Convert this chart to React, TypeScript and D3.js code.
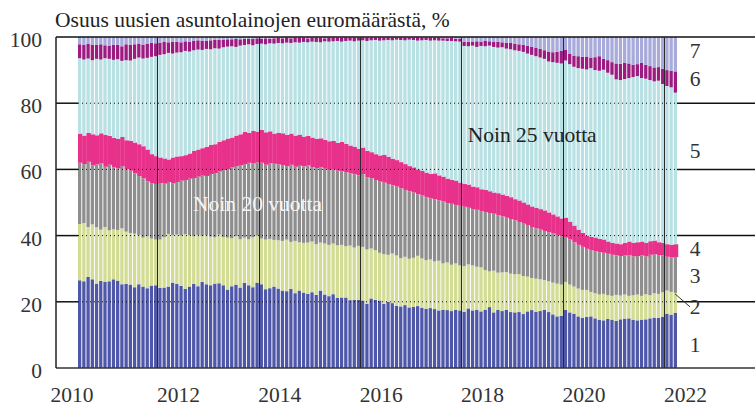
import React from 'react';
import * as d3 from 'd3';

const W = 755;
const H = 408;

const title = 'Osuus uusien asuntolainojen euromäärästä, %';
const startYear = 2010;
const yearTicks = [2010, 2012, 2014, 2016, 2018, 2020, 2022];
const yTicks = [0, 20, 40, 60, 80, 100];
const gridTicks = [20, 40, 60, 80];
// bar index where the dark vertical separator lines are drawn (August 2011, 2013, ...)
const markerIdx = [19, 43, 67, 91, 115, 139];
const seriesNames = ['1', '2', '3', '4', '5', '6', '7'];
const annot25 = 'Noin 25 vuotta';
const annot20 = 'Noin 20 vuotta';

// monthly shares (%), Jan 2010 – Oct 2021
const s1 = [
  26.5, 26.2, 27.5, 26.8, 25.5, 26.3, 26.0, 26.2, 26.8, 26.4, 25.3, 25.4,
  25.2, 24.4, 25.3, 24.6, 24.1, 24.9, 25.0, 24.2, 24.3, 24.6, 25.8, 25.4,
  24.8, 23.9, 24.6, 25.4, 24.7, 26.0, 25.3, 25.0, 25.5, 25.6, 25.0, 23.7,
  24.7, 25.2, 24.3, 25.7, 25.0, 24.4, 25.8, 25.3, 23.8, 24.1, 24.6, 24.0,
  23.4, 23.2, 23.9, 22.6, 23.4, 22.8, 22.4, 22.9, 22.1, 23.4, 22.2, 21.7,
  22.3, 21.2, 21.3, 21.3, 20.5, 20.6, 20.6, 20.4, 19.4, 21.0, 20.6, 20.4,
  19.4, 20.0, 19.6, 18.8, 18.6, 19.0, 18.3, 18.5, 18.7, 18.2, 17.9, 18.1,
  17.8, 17.4, 17.6, 17.5, 17.2, 17.6, 17.4, 17.0, 18.0, 17.4, 17.6, 17.1,
  17.6, 18.4, 16.8, 17.6, 17.2, 17.6, 16.9, 16.8, 16.9, 16.3, 17.1, 17.5,
  17.0, 17.2, 17.6, 16.9, 16.2, 15.6, 15.8, 17.6, 16.8, 16.4, 15.6, 15.2,
  15.4, 15.6, 15.0, 14.6, 14.4, 14.8, 14.6, 14.2, 14.7, 14.9, 15.0, 14.6,
  14.4, 14.6, 14.7, 15.0, 15.2, 15.1, 15.5, 16.4, 16.1, 16.7,
];
const s2 = [
  17.0, 17.6, 15.1, 16.6, 17.0, 15.5, 16.6, 15.4, 15.1, 15.3, 16.9, 15.8,
  15.6, 16.2, 14.9, 14.8, 15.7, 14.2, 13.8, 14.6, 15.2, 15.9, 14.4, 14.9,
  15.2, 16.5, 15.5, 14.4, 15.5, 13.9, 14.8, 14.7, 14.0, 14.7, 14.6, 15.7,
  14.5, 14.6, 14.6, 13.7, 13.9, 15.1, 14.2, 13.8, 15.0, 14.9, 14.1, 14.6,
  15.0, 15.6, 14.2, 15.8, 14.6, 15.0, 15.5, 15.3, 15.3, 14.5, 15.4, 15.5,
  15.3, 15.9, 15.9, 15.5, 16.5, 15.8, 16.3, 16.2, 16.4, 15.1, 15.0, 14.4,
  15.0, 14.2, 15.0, 15.2, 14.6, 14.6, 14.7, 14.8, 15.2, 14.9, 14.7, 14.7,
  14.4, 15.0, 14.0, 14.4, 14.0, 14.0, 13.6, 13.8, 13.3, 13.6, 13.0, 13.3,
  12.0, 10.8, 12.6, 11.2, 11.7, 11.4, 11.6, 11.5, 11.5, 11.5, 10.5, 9.7,
  10.0, 9.6, 9.0, 9.3, 9.6, 9.9, 9.4, 8.4, 8.4, 8.2, 8.4, 8.4,
  8.2, 7.4, 7.6, 7.6, 8.0, 7.2, 7.2, 7.9, 7.2, 7.3, 6.8, 7.4,
  7.8, 7.2, 7.6, 7.0, 7.4, 7.3, 7.4, 7.0, 6.9, 6.0,
];
const s3 = [
  18.5, 17.8, 19.7, 17.8, 19.0, 20.0, 18.2, 19.8, 18.7, 18.6, 18.8, 18.9,
  18.8, 18.2, 17.8, 17.9, 16.6, 16.7, 16.8, 17.1, 16.2, 15.7, 15.6, 15.9,
  16.6, 16.4, 17.1, 17.6, 17.6, 18.2, 17.9, 18.9, 19.4, 19.1, 20.2, 20.7,
  21.4, 21.2, 22.4, 22.2, 23.1, 22.3, 22.1, 22.9, 22.6, 22.9, 23.0, 22.9,
  22.9, 22.2, 23.3, 22.4, 23.1, 23.1, 23.3, 22.5, 23.0, 22.7, 22.6, 22.6,
  22.3, 22.5, 22.2, 22.4, 21.8, 22.1, 21.3, 22.0, 21.8, 21.3, 21.2, 21.5,
  21.6, 21.4, 20.6, 20.8, 21.1, 20.2, 20.4, 19.7, 18.6, 19.0, 19.0, 18.4,
  18.8, 18.2, 18.7, 17.9, 18.4, 17.6, 18.0, 17.9, 17.1, 16.9, 17.2, 17.0,
  17.5, 17.6, 17.2, 17.4, 16.9, 16.4, 16.5, 16.3, 15.7, 15.8, 15.6, 15.4,
  15.2, 15.0, 14.8, 14.8, 14.8, 14.7, 14.6, 13.4, 13.6, 13.4, 13.2, 13.0,
  12.4, 12.6, 12.7, 12.8, 12.4, 12.5, 12.4, 11.9, 11.9, 11.8, 12.3, 11.7,
  11.6, 12.2, 11.4, 12.2, 11.8, 11.7, 11.1, 10.2, 10.4, 10.8,
];
const s4 = [
  8.8, 8.6, 8.7, 9.4, 8.8, 9.1, 9.6, 8.7, 8.9, 8.9, 8.8, 8.7,
  9.0, 9.3, 9.6, 9.7, 9.6, 8.8, 8.4, 7.7, 7.6, 6.8, 7.8, 7.7,
  7.4, 7.5, 7.6, 8.2, 8.2, 8.3, 8.8, 8.8, 8.7, 8.9, 9.0, 9.2,
  9.0, 9.2, 9.3, 9.7, 9.0, 9.8, 9.3, 9.9, 9.8, 9.6, 9.1, 9.5,
  9.6, 9.4, 9.4, 9.4, 9.4, 9.0, 8.9, 8.9, 8.8, 8.8, 8.7, 8.7,
  8.7, 8.4, 8.9, 8.5, 8.4, 8.3, 8.0, 8.0, 8.0, 7.8, 7.8, 7.9,
  8.4, 8.2, 8.0, 8.0, 7.9, 7.8, 7.6, 7.6, 7.5, 7.5, 7.4, 7.4,
  7.8, 7.6, 7.5, 7.4, 7.2, 7.4, 7.0, 6.9, 7.0, 6.9, 6.8, 6.6,
  6.7, 6.6, 6.4, 6.6, 6.6, 6.6, 6.6, 6.4, 6.5, 6.4, 6.2, 6.2,
  6.2, 6.2, 6.2, 6.0, 5.8, 5.6, 5.4, 6.0, 5.4, 5.0, 4.6, 4.2,
  4.0, 4.0, 4.1, 4.0, 4.0, 3.7, 3.6, 3.6, 3.6, 3.8, 4.1, 4.1,
  4.2, 4.2, 4.1, 4.1, 4.1, 3.9, 3.8, 3.8, 3.8, 3.9,
];
const s5 = [
  22.8, 23.0, 22.5, 22.4, 23.1, 22.3, 23.2, 23.3, 23.6, 24.1, 23.0, 24.2,
  24.3, 25.3, 26.2, 26.5, 27.7, 29.4, 30.2, 31.0, 31.5, 32.2, 31.4, 31.4,
  31.4, 31.5, 30.8, 30.4, 30.2, 29.7, 29.6, 28.9, 29.0, 28.2, 28.1, 27.8,
  27.6, 26.8, 26.8, 26.3, 26.8, 25.9, 26.5, 26.1, 26.6, 26.6, 27.2, 27.2,
  27.2, 27.9, 27.4, 28.2, 27.8, 28.6, 28.3, 29.0, 29.3, 29.0, 29.8, 30.1,
  30.1, 30.8, 30.3, 31.1, 31.7, 31.9, 32.7, 32.4, 33.2, 33.8, 34.5, 34.7,
  34.6, 35.3, 35.8, 36.4, 36.9, 37.4, 38.2, 38.5, 38.9, 39.4, 40.1, 40.3,
  40.2, 40.7, 41.1, 41.6, 42.0, 42.1, 42.6, 41.7, 41.8, 42.6, 42.4, 43.3,
  43.4, 44.0, 44.0, 44.0, 44.5, 44.5, 44.7, 45.0, 45.2, 45.5, 45.6, 45.8,
  45.8, 45.8, 45.8, 45.6, 46.0, 46.4, 46.8, 47.5, 47.6, 48.0, 48.8, 49.6,
  50.2, 51.0, 50.6, 50.8, 51.3, 51.0, 50.8, 49.6, 49.6, 49.5, 49.4, 50.1,
  50.2, 49.4, 49.6, 48.7, 48.1, 48.8, 48.0, 47.8, 47.6, 45.8,
];
const s6 = [
  4.2, 4.4, 4.4, 4.7, 4.2, 4.6, 3.9, 4.0, 4.6, 4.3, 4.4, 4.8,
  4.7, 4.4, 4.1, 4.2, 4.3, 4.2, 3.9, 3.7, 3.7, 3.2, 3.6, 3.2,
  3.0, 2.9, 3.0, 2.8, 2.8, 2.8, 2.4, 2.7, 2.5, 2.7, 2.2, 2.2,
  2.1, 2.4, 1.9, 1.9, 1.6, 2.0, 1.7, 1.5, 1.8, 1.4, 1.6, 1.5,
  1.5, 1.4, 1.4, 1.3, 1.5, 1.2, 1.2, 1.1, 1.3, 1.3, 0.9, 1.1,
  1.0, 1.0, 1.1, 1.0, 0.8, 1.1, 0.9, 0.7, 1.0, 0.8, 0.6, 0.9,
  0.8, 0.6, 0.8, 0.6, 0.6, 0.8, 0.6, 0.6, 0.8, 0.8, 0.7, 0.8,
  0.7, 0.8, 0.7, 0.8, 0.9, 0.8, 0.9, 1.2, 1.4, 1.1, 1.7, 1.3,
  1.6, 1.3, 1.6, 1.7, 1.5, 1.8, 1.9, 2.0, 2.0, 2.1, 2.4, 2.4,
  2.6, 2.6, 2.6, 3.0, 3.0, 3.3, 3.8, 3.3, 3.2, 3.4, 3.6, 3.6,
  3.9, 3.2, 3.9, 4.4, 3.3, 3.8, 3.8, 4.8, 4.9, 4.9, 4.4, 3.7,
  3.6, 4.6, 4.2, 4.2, 4.2, 4.1, 4.6, 4.8, 5.0, 6.4,
];
const s7 = [
  2.2, 2.4, 2.1, 2.3, 2.4, 2.2, 2.5, 2.6, 2.3, 2.4, 2.8, 2.2,
  2.4, 2.2, 2.1, 2.3, 2.0, 1.8, 1.9, 1.7, 1.5, 1.6, 1.4, 1.5,
  1.6, 1.3, 1.4, 1.2, 1.0, 1.1, 1.2, 1.0, 0.9, 0.8, 0.9, 0.7,
  0.7, 0.6, 0.7, 0.5, 0.6, 0.5, 0.4, 0.5, 0.4, 0.5, 0.4, 0.3,
  0.4, 0.3, 0.4, 0.3, 0.2, 0.3, 0.4, 0.3, 0.2, 0.3, 0.4, 0.3,
  0.3, 0.2, 0.3, 0.2, 0.3, 0.2, 0.2, 0.3, 0.2, 0.2, 0.3, 0.2,
  0.2, 0.3, 0.2, 0.2, 0.3, 0.2, 0.2, 0.3, 0.3, 0.2, 0.2, 0.3,
  0.3, 0.3, 0.4, 0.4, 0.3, 0.5, 0.5, 1.5, 1.4, 1.5, 1.3, 1.4,
  1.2, 1.3, 1.4, 1.5, 1.6, 1.7, 1.8, 2.0, 2.2, 2.4, 2.6, 3.0,
  3.2, 3.6, 4.0, 4.4, 4.6, 4.5, 4.2, 3.8, 5.0, 5.6, 5.8, 6.0,
  5.9, 6.2, 6.1, 5.8, 6.6, 7.0, 7.6, 8.0, 8.1, 7.8, 8.0, 8.4,
  8.2, 7.8, 8.4, 8.8, 9.2, 9.1, 9.6, 10.0, 10.2, 10.4,
];

const colors = ['#4f57a9', '#d3dc95', '#8e8e8e', '#e8318b', '#b9e1e4', '#9c1b80', '#a7aada'];

const FONT = '"Liberation Serif", "Times New Roman", serif';
const TEXT = '#333';

export default function App() {
  const series = [s1, s2, s3, s4, s5, s6, s7];
  const keys = seriesNames.map((_, k) => 'k' + k);
  const n = s1.length;
  const data = d3.range(n).map((i) => {
    const o: any = { i };
    series.forEach((s, k) => (o['k' + k] = s[i]));
    return o;
  });
  const stacked = d3.stack().keys(keys)(data);

  const left = 56;
  const barL = 78;
  const barR = 677;
  const right = 755;
  const x = d3.scaleBand<number>().domain(d3.range(n)).range([barL, barR]).paddingInner(0.22).paddingOuter(0);
  const y = d3.scaleLinear().domain([0, 100]).range([368, 37]);
  const step = x.step();
  const bw = x.bandwidth();
  const monthIndex = (yr: number) => (yr - startYear) * 12;

  const lastRow = stacked.map((layer) => layer[n - 1]);
  const labelY = [y(7), null, y(28), y(36), y(65.6), y(87.6), y(96)];

  return (
    <div style={{ position: 'absolute', left: 0, top: 0 }}>
      <svg width={W} height={H} style={{ display: 'block', background: '#fff' }} fontFamily={FONT}>
        <text x={55} y={27} fontSize={21.5} fill="#222">{title}</text>

        {stacked.map((layer, k) => (
          <g key={k} fill={colors[k]}>
            {layer.map((d, i) => {
              const wide = k === 3;
              const x0 = x(i)!;
              return (
                <rect
                  key={i}
                  x={x0}
                  y={y(d[1])}
                  width={wide ? step + 0.3 : bw}
                  height={Math.max(0, y(d[0]) - y(d[1]))}
                />
              );
            })}
          </g>
        ))}

        {gridTicks.map((t) => (
          <g key={t} stroke="#111">
            <line x1={left} x2={barL} y1={y(t)} y2={y(t)} strokeWidth={1.5} />
            <line x1={barL} x2={barR} y1={y(t)} y2={y(t)} strokeWidth={1} strokeDasharray="1 3" />
            <line x1={barR} x2={right} y1={y(t)} y2={y(t)} strokeWidth={1.5} />
          </g>
        ))}
        <line x1={left} x2={right} y1={y(100)} y2={y(100)} stroke="#111" strokeWidth={1.5} />
        <line x1={left} x2={right} y1={y(0)} y2={y(0)} stroke="#333" strokeWidth={1.5} />
        <line x1={left} x2={left} y1={y(100)} y2={y(0)} stroke="#222" strokeWidth={1.5} />

        {markerIdx.map((i) => {
          const xv = Math.round(x(i)!) - 0.5;
          return <line key={i} x1={xv} x2={xv} y1={y(100)} y2={y(0)} stroke="#2a2a2a" strokeWidth={1} />;
        })}

        {yTicks.map((t) => (
          <text key={t} x={42} y={y(t) + 10} fontSize={21.5} fill={TEXT} textAnchor="end">{t}</text>
        ))}

        {yearTicks.map((yr) => (
          <text key={yr} x={barL + monthIndex(yr) * step - (yr === startYear ? 6 : 1)} y={402} fontSize={21.5} fill={TEXT} textAnchor="middle">{yr}</text>
        ))}

        <text x={x(92)! + 1} y={142} fontSize={21.5} fill="#222">{annot25}</text>
        <text x={x(27)! + 1} y={211} fontSize={21.5} fill="#f4f4f4">{annot20}</text>

        {seriesNames.map((nm, k) => {
          const ly = k === 1 ? y(lastRow[1][1]) + 21 : (labelY[k] as number) + 7.5;
          return <text key={nm} x={695} y={ly} fontSize={21.5} fill={TEXT} textAnchor="middle">{nm}</text>;
        })}
        <line x1={barR - 2} x2={690} y1={y(lastRow[1][1]) + 1} y2={y(lastRow[1][1]) + 14} stroke="#333" strokeWidth={1} />
      </svg>
    </div>
  );
}
